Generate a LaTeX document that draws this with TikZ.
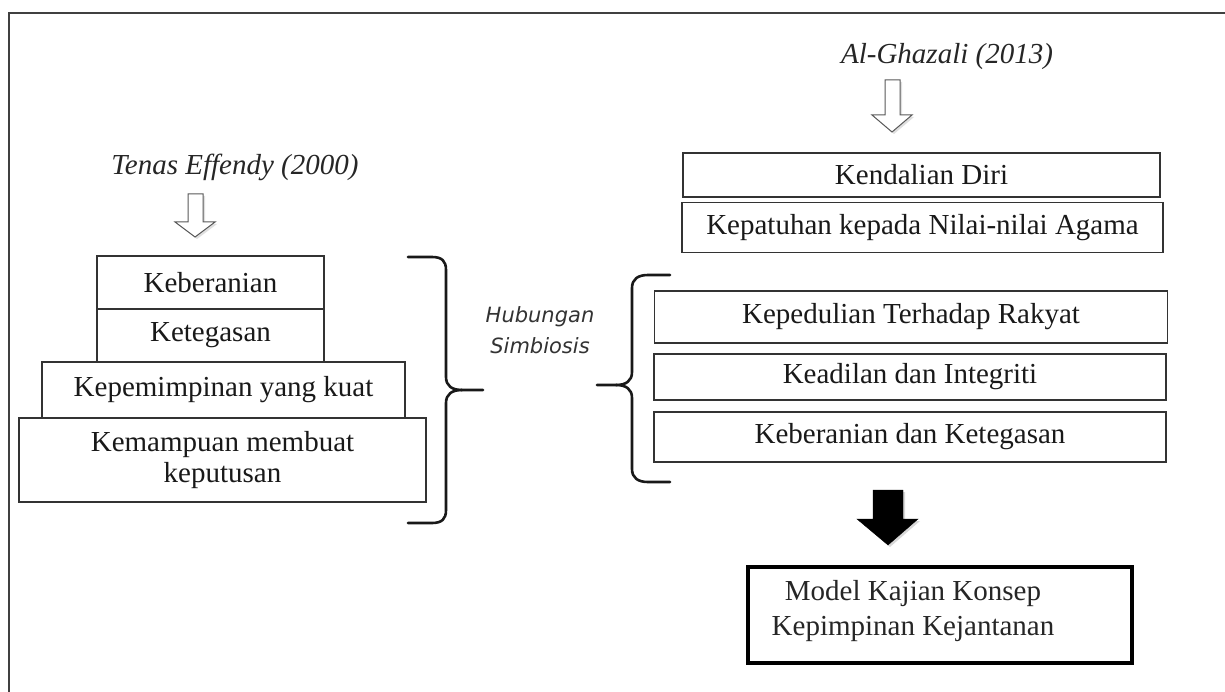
\documentclass[tikz,border=0pt]{standalone}
\usepackage{fontspec}
\setmainfont{Liberation Serif}
\newfontfamily\sansfont{DejaVu Sans}
\usetikzlibrary{calc}
\usetikzlibrary{shadows}

\begin{document}
\begin{tikzpicture}[x=1pt, y=-1pt,
  box/.style={draw=black!80, line width=1.2pt, inner sep=0pt, align=center, text=black!90,
    font=\fontsize{29}{31}\selectfont},
  source/.style={inner sep=0pt, text=black!85},
  hollow/.style={draw=black!65, fill=white, line width=1pt, line join=miter,
    drop shadow={shadow xshift=2pt, shadow yshift=-2pt, opacity=.25}},
  solid/.style={fill=black, draw=black,
    drop shadow={shadow xshift=2pt, shadow yshift=-2pt, opacity=.3}},
  brace/.style={draw=black!90, line width=2.6pt, line cap=round, line join=round}]
\useasboundingbox (0,0) rectangle (1225,692);
\fill[white] (0,0) rectangle (1225,692);
% frame (cut off right and bottom)
\draw[black!75, line width=1.6pt] (9,692) -- (9,13) -- (1225,13);

% left column
\node[source, font=\itshape\fontsize{29}{31}\selectfont] (tenas) at (235,167) {Tenas Effendy (2000)};
\draw[hollow] (188,194) -- ++(15,0) -- ++(0,28) -- ++(12,0) -- (195,237) -- (175,222) -- ++(13,0) -- cycle;
\node[box, minimum width=227pt, minimum height=53pt] (berani) at (210.5,282.5) {Keberanian};
\node[box, minimum width=227pt, minimum height=53pt] (tegas) at (210.5,335.5) {Ketegasan};
\node[box, minimum width=363pt, minimum height=56pt] (kuat) at (223.5,390) {Kepemimpinan yang kuat};
\node[box, minimum width=407pt, minimum height=84pt] (keputusan) at (222.5,460) {Kemampuan membuat\\keputusan};

% braces
\draw[brace] (408,257) -- (432,257) .. controls (442,257) and (446,261) .. (446,270) -- (446,377)
  .. controls (446,386) and (452,390) .. (462,390) -- (483,390);
\draw[brace] (462,390) .. controls (452,390) and (446,394) .. (446,403) -- (446,510)
  .. controls (446,519) and (442,523) .. (432,523) -- (408,523);
\node[source, font=\sansfont\itshape\fontsize{21}{31}\selectfont, text=black!80, align=center] (simbiosis) at (540,330) {Hubungan\\Simbiosis};
\draw[brace] (670,275) -- (648,275) .. controls (638,275) and (632,279) .. (632,288) -- (632,372)
  .. controls (632,381) and (626,385) .. (616,385) -- (597,385);
\draw[brace] (616,385) .. controls (626,385) and (632,389) .. (632,398) -- (632,469)
  .. controls (632,478) and (638,482) .. (648,482) -- (670,482);

% right column
\node[source, font=\itshape\fontsize{29}{31}\selectfont] (ghazali) at (947,57) {Al-Ghazali (2013)};
\draw[hollow] (885,80) -- ++(15,0) -- ++(0,35) -- ++(12,0) -- (892,132) -- (872,115) -- ++(13,0) -- cycle;
\node[box, minimum width=477pt, minimum height=44pt] (diri) at (921.5,175) {Kendalian Diri};
\node[box, minimum width=481pt, minimum height=50pt] (agama) at (922.5,227.5) {Kepatuhan kepada Nilai-nilai Agama};
\node[box, minimum width=513pt, minimum height=52pt] (rakyat) at (911,317) {Kepedulian Terhadap Rakyat};
\node[box, minimum width=512pt, minimum height=46pt] (adil) at (910,377) {Keadilan dan Integriti};
\node[box, minimum width=512pt, minimum height=50pt] (beranitegas) at (910,437) {Keberanian dan Ketegasan};
\draw[solid] (873,490) -- ++(30,0) -- ++(0,29) -- ++(15,0) -- (888,545) -- (857,519) -- ++(16,0) -- cycle;
\draw[black, line width=4pt] (748,567) rectangle (1132,663);
\node[source, font=\fontsize{29}{35}\selectfont, align=center] (model) at (913,611) {Model Kajian Konsep\\Kepimpinan Kejantanan};
\end{tikzpicture}
\end{document}
